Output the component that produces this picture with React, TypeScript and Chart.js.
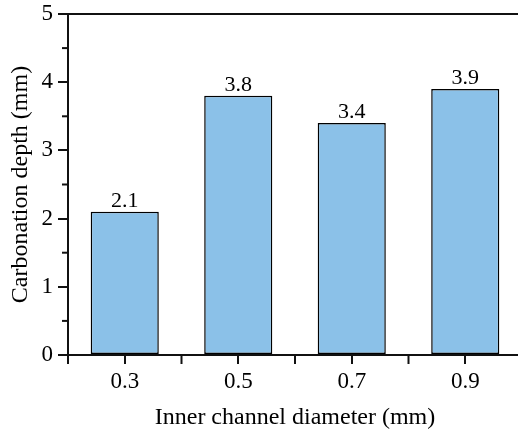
import React, { useEffect, useRef } from "react";
import { Chart, registerables } from "chart.js";

Chart.register(...registerables);

const categories = ["0.3", "0.5", "0.7", "0.9"];
const depthValues = [2.1, 3.8, 3.4, 3.9];
const yTicks = [0, 1, 2, 3, 4, 5];

const FONT = "'Liberation Serif', 'Times New Roman', serif";

const extrasPlugin = {
  id: "extras",
  afterDraw(chart: any) {
    const ctx = chart.ctx;
    const area = chart.chartArea;
    const xs = chart.scales.x;
    const ys = chart.scales.y;
    ctx.save();
    ctx.strokeStyle = "#111";
    ctx.lineWidth = 2;
    ctx.beginPath();
    ctx.moveTo(area.left, area.top);
    ctx.lineTo(chart.width, area.top);
    ctx.stroke();
    for (let i = 0; i < yTicks.length - 1; i++) {
      const v = (yTicks[i] + yTicks[i + 1]) / 2;
      const py = ys.getPixelForValue(v);
      ctx.beginPath();
      ctx.moveTo(area.left - 6, py);
      ctx.lineTo(area.left, py);
      ctx.stroke();
    }
    const n = categories.length;
    const step = n > 1 ? xs.getPixelForValue(1) - xs.getPixelForValue(0) : xs.width;
    for (let i = 0; i <= n; i++) {
      const px = xs.getPixelForValue(0) - step / 2 + i * step;
      ctx.beginPath();
      ctx.moveTo(px, area.bottom);
      ctx.lineTo(px, area.bottom + 9);
      ctx.stroke();
    }
    const meta = chart.getDatasetMeta(0);
    ctx.fillStyle = "#000";
    ctx.font = `22px ${FONT}`;
    ctx.textAlign = "center";
    ctx.textBaseline = "alphabetic";
    meta.data.forEach((bar: any, i: number) => {
      ctx.fillText(depthValues[i].toFixed(1), bar.x, bar.y - 5);
    });
    ctx.restore();
  },
};

export default function App() {
  const ref = useRef<HTMLCanvasElement>(null);
  useEffect(() => {
    if (!ref.current) return;
    const chart = new Chart(ref.current, {
      type: "bar",
      data: {
        labels: categories,
        datasets: [
          {
            data: depthValues,
            backgroundColor: "rgb(139,193,232)",
            borderColor: "#000",
            borderWidth: 1.5,
            borderSkipped: false,
            barPercentage: 0.6,
            categoryPercentage: 1,
          },
        ],
      },
      options: {
        responsive: false,
        animation: false,
        devicePixelRatio: 1,
        layout: { padding: { top: 14, right: 8, left: 0, bottom: 0 } },
        plugins: { legend: { display: false }, tooltip: { enabled: false } },
        scales: {
          x: {
            offset: true,
            grid: {
              offset: false,
              drawOnChartArea: false,
              drawTicks: true,
              tickLength: 9,
              color: "#111",
              lineWidth: 2,
            },
            border: { display: true, color: "#111", width: 2 },
            ticks: {
              color: "#000",
              font: { family: FONT, size: 23 },
              padding: 4,
              maxRotation: 0,
            },
            title: {
              display: true,
              text: "Inner channel diameter (mm)",
              color: "#000",
              font: { family: FONT, size: 24 },
              padding: { top: 0, bottom: 4 },
            },
            afterFit(scale: any) {
              scale.height = 81;
            },
          },
          y: {
            min: 0,
            max: 5,
            ticks: {
              stepSize: 1,
              color: "#000",
              font: { family: FONT, size: 23, lineHeight: 0.6 },
              padding: 5,
            },
            grid: {
              drawOnChartArea: false,
              drawTicks: true,
              tickLength: 10,
              color: "#111",
              lineWidth: 2,
            },
            border: { display: true, color: "#111", width: 2 },
            title: {
              display: true,
              text: "Carbonation depth (mm)",
              color: "#000",
              font: { family: FONT, size: 24 },
              padding: { top: 6, bottom: 0 },
            },
            afterFit(scale: any) {
              scale.width = 68;
            },
          },
        },
      },
      plugins: [extrasPlugin],
    });
    return () => chart.destroy();
  }, []);
  return (
    <div
      style={{
        position: "fixed",
        left: 0,
        top: 0,
        width: 518,
        height: 436,
        overflow: "hidden",
        background: "#fff",
      }}
    >
      <canvas ref={ref} width={530} height={436} style={{ display: "block" }} />
    </div>
  );
}
